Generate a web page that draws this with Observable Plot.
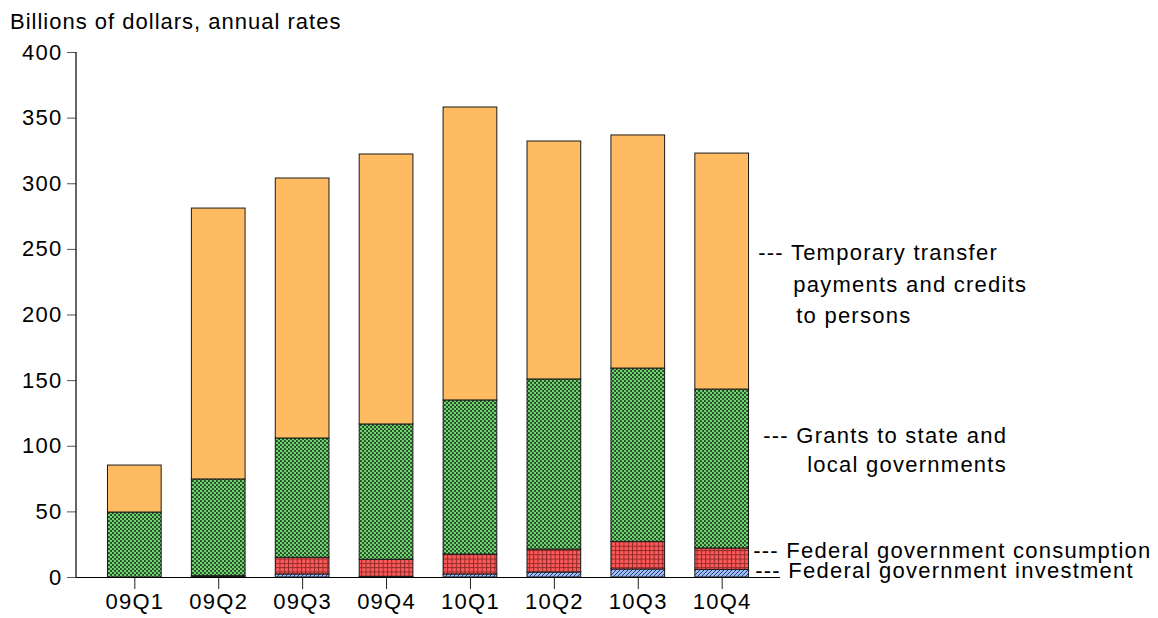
<!DOCTYPE html>
<html><head><meta charset="utf-8">
<script src="https://cdn.jsdelivr.net/npm/d3@7"></script>
<script src="https://cdn.jsdelivr.net/npm/@observablehq/plot@0.6"></script>
<style>
body{margin:0;background:#fff;font-family:"Liberation Sans",Arial,sans-serif;}
#wrap{position:relative;width:1158px;height:618px;overflow:hidden;}
#title{position:absolute;left:10px;top:9px;font-size:22px;letter-spacing:1px;line-height:26px;color:#000;white-space:nowrap;}
#chart{position:absolute;left:0;top:34px;}
</style></head><body>
<div id="wrap"><div id="title">Billions of dollars, annual rates</div><div id="chart"></div></div>
<script>
// ---- data (billions of dollars, annual rates) ----
const quarters    = ["09Q1","09Q2","09Q3","09Q4","10Q1","10Q2","10Q3","10Q4"];
const investment  = [0, 0.3, 2.3, 0.5, 2.3, 3.8, 6.1, 5.8];
const consumption = [0, 0.7, 12.7, 13.0, 15.2, 17.5, 21.0, 16.3];
const grants      = [49.5, 73.7, 90.9, 103.1, 117.4, 129.6, 132.1, 121.1];
const transfers   = [35.8, 206.4, 198.1, 205.7, 223.2, 181.3, 177.6, 179.8];
const seriesKeys  = ["investment","consumption","grants","transfers"];
const seriesValues = {investment, consumption, grants, transfers};
const yTicks = [0, 50, 100, 150, 200, 250, 300, 350, 400];
const labelLines = [
  "--- Temporary transfer", "payments and credits", "to persons",
  "--- Grants to state and", "local governments",
  "--- Federal government consumption", "--- Federal government investment"
];

const rows = [];
quarters.forEach((q, i) => seriesKeys.forEach(s => rows.push({quarter: q, series: s, value: seriesValues[s][i]})));

// label placement (data y, horizontal offset from last bar centre)
const labelPlace = [[247, 36], [223.2, 71], [199.6, 74], [108.2, 41], [86, 85], [20.6, 31], [5.0, 33]];

const defsMark = () => {
  const defs = d3.create("svg:defs");
  const g = defs.append("pattern").attr("id","pGreen").attr("patternUnits","userSpaceOnUse").attr("width",4).attr("height",4);
  g.append("rect").attr("width",4).attr("height",4).attr("fill","#203c20");
  g.append("circle").attr("cx",1).attr("cy",1).attr("r",1.35).attr("fill","#6fd36f");
  g.append("circle").attr("cx",3).attr("cy",3).attr("r",1.35).attr("fill","#6fd36f");
  const r = defs.append("pattern").attr("id","pRed").attr("patternUnits","userSpaceOnUse").attr("width",4.3).attr("height",4.3);
  r.append("rect").attr("width",4.3).attr("height",4.3).attr("fill","#ff5a5a");
  r.append("rect").attr("width",4.3).attr("height",1).attr("fill","#8f2a2a");
  r.append("rect").attr("width",1).attr("height",4.3).attr("fill","#8f2a2a");
  const b = defs.append("pattern").attr("id","pBlue").attr("patternUnits","userSpaceOnUse").attr("width",4).attr("height",4);
  b.append("rect").attr("width",4).attr("height",4).attr("fill","#9cbcff");
  b.append("path").attr("d","M-1,1 L1,-1 M0,4 L4,0 M3,5 L5,3").attr("stroke","#20304a").attr("stroke-width",0.9);
  return defs.node();
};

const leftAxisLine = (index, scales, values, dims) => {
  const g = d3.create("svg:g");
  g.append("line")
    .attr("x1", dims.marginLeft).attr("x2", dims.marginLeft)
    .attr("y1", scales.y(400)).attr("y2", scales.y(0))
    .attr("stroke", "#000").attr("stroke-width", 1.2);
  return g.node();
};

const plot = Plot.plot({
  width: 1158,
  height: 584,
  marginLeft: 76,
  marginRight: 378,
  marginTop: 18,
  marginBottom: 41,
  style: {fontFamily: "'Liberation Sans', Arial, sans-serif", fontSize: "22px", letterSpacing: "1.25px", color: "#000", background: "#fff", overflow: "visible"},
  x: {domain: quarters, paddingInner: 0.36, paddingOuter: 0.375, align: 0.5, round: false, label: null},
  y: {domain: [0, 400], label: null},
  color: {type: "ordinal", domain: seriesKeys, range: ["url(#pBlue)", "url(#pRed)", "url(#pGreen)", "#ffbb62"]},
  marks: [
    defsMark,
    Plot.barY(rows, {x: "quarter", y: "value", fill: "series", order: seriesKeys, stroke: "#1a1a1a", strokeWidth: 1}),
    Plot.axisY({ticks: yTicks, tickSize: 9, tickPadding: 5, label: null, stroke: "#555", tickFormat: d => String(d)}),
    Plot.axisX({tickSize: 12, tickPadding: 4, label: null, stroke: "#222"}),
    Plot.ruleY([0], {stroke: "#000", strokeWidth: 1.2}),
    leftAxisLine,
    ...labelLines.map((t, i) => Plot.text([t], {
      x: () => quarters[quarters.length - 1], y: () => labelPlace[i][0], text: d => d,
      dx: labelPlace[i][1], textAnchor: "start", fill: "#000", fontSize: 22
    }))
  ]
});
document.getElementById("chart").appendChild(plot);
</script>
</body></html>
